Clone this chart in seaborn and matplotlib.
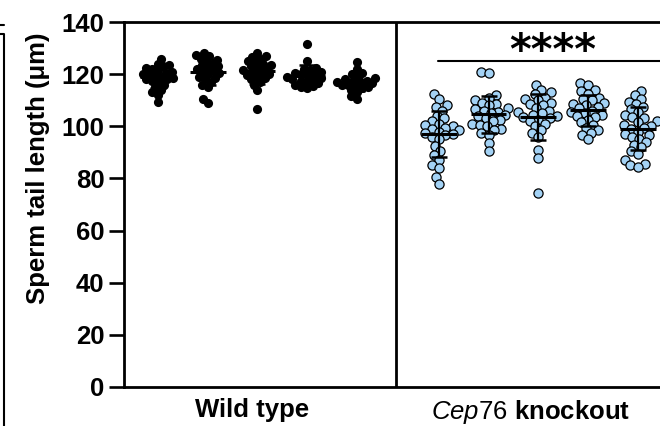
import numpy as np
import pandas as pd
import matplotlib
matplotlib.use("Agg")
import matplotlib.pyplot as plt
from matplotlib.lines import Line2D
import seaborn as sns

# ---------------- data ----------------
wt1 = [126, 124, 123.5, 123, 122.5, 122, 121.5, 121, 120.5, 120, 120, 119.5, 119, 118.5,
       118, 118, 117.5, 117, 116, 115, 114, 113, 112, 109.5]
wt2 = [128, 127.5, 127, 126, 125.5, 125, 124, 123.5, 123, 122.5, 122, 121.5, 121, 120.5,
       120, 119, 118.5, 118, 117, 116, 115, 110.5, 109]
wt3 = [128, 127, 126.5, 126, 125, 124.5, 124, 123.5, 123, 122.5, 122, 121.5, 121, 120.5,
       120, 119.5, 119, 118.5, 118, 117, 116, 114, 106.5]
wt4 = [131.5, 125, 122.5, 122, 121.5, 121, 120.5, 120, 120, 119.5, 119, 118.5, 118, 118,
       117.5, 117, 116.5, 116, 115.5, 115, 114.5]
wt5 = [124.5, 122, 120.5, 120, 119, 118.5, 118, 117.5, 117.5, 117, 117, 116.5, 116, 116,
       115.5, 115, 114.5, 114, 113, 111.5, 110.5]
ko1 = [112.5, 110.5, 108, 107.5, 106, 104, 103, 102, 101, 100.5, 100, 99.5, 99, 98.5, 98,
       97.5, 97, 96.5, 96, 95, 92.5, 90.5, 89, 87, 85, 84, 80.5, 78]
ko2 = [121, 120.5, 112, 111, 110, 109, 108.5, 108, 107, 106.5, 106, 105.5, 105, 104.5, 104,
       103, 102.5, 102, 101, 100.5, 100, 99, 98.5, 97.5, 96.5, 93.5, 90.5]
ko3 = [116, 114, 113, 112.5, 111, 110.5, 110, 109, 108.5, 108, 107, 106, 105.5, 105, 104.5,
       104, 103.5, 103, 102.5, 102, 101, 100, 98.5, 97.5, 96, 91, 88, 74.5]
ko4 = [116.5, 116, 114, 113.5, 112.5, 111, 110.5, 110, 109, 108.5, 108, 107.5, 107, 106,
       105.5, 105, 104.5, 104, 103.5, 102.5, 101.5, 100.5, 99.5, 98.5, 97.5, 96.5, 95]
ko5 = [113.5, 112, 110.5, 109.5, 108.5, 107.5, 106.5, 105.5, 104.5, 103.5, 103, 102, 101.5,
       100.5, 100, 99.5, 99, 98, 97, 96.5, 96, 95, 94, 93, 92, 90.5, 89.5, 87, 85.5, 85, 84.5]

wt_groups = [wt1, wt2, wt3, wt4, wt5]
ko_groups = [ko1, ko2, ko3, ko4, ko5]
group_labels = ["Wild type", r"$\mathit{Cep76}$ knockout"]
y_ticks = [0, 20, 40, 60, 80, 100, 120, 140]
y_label = "Sperm tail length (μm)"
sig_text = "****"

# positions of the clusters on the x axis
wt_pos = [0, 1, 2, 3, 4]
ko_pos = [5.65, 6.65, 7.65, 8.65, 9.65]

rows = []
for p, g in zip(wt_pos, wt_groups):
    rows += [("WT", p, v) for v in g]
for p, g in zip(ko_pos, ko_groups):
    rows += [("KO", p, v) for v in g]
df = pd.DataFrame(rows, columns=["genotype", "pos", "length"])

# ---------------- style ----------------
sns.set_style("ticks")
plt.rcParams["font.family"] = ["Liberation Sans", "DejaVu Sans"]
plt.rcParams["mathtext.fontset"] = "custom"
plt.rcParams["mathtext.it"] = "Liberation Sans:italic"
plt.rcParams["mathtext.rm"] = "Liberation Sans"
plt.rcParams["mathtext.bf"] = "Liberation Sans:bold"
for k in ["text.color", "axes.labelcolor", "xtick.color", "ytick.color", "axes.edgecolor"]:
    plt.rcParams[k] = "black"

W, H = 660, 426
fig = plt.figure(figsize=(W / 100, H / 100), dpi=100)
ax = fig.add_axes([124 / W, 1 - 387 / H, 1 - 124 / W, (387 - 22) / H])

wt = df[df.genotype == "WT"]
ko = df[df.genotype == "KO"]
LAYOUT_SIZE = 4.3
sns.swarmplot(data=wt, x="pos", y="length", native_scale=True, color="black",
              size=LAYOUT_SIZE, linewidth=0, ax=ax, zorder=3, warn_thresh=1)
sns.swarmplot(data=ko, x="pos", y="length", native_scale=True, color="#a3d2f5",
              edgecolor="black", linewidth=0.9, size=LAYOUT_SIZE, ax=ax, zorder=3,
              warn_thresh=1)

ax.set_xlim(-0.684, 10.10)
ax.set_ylim(0, 140)

# lay out the swarms tightly, then enlarge the dots so they overlap (as in Prism)
fig.canvas.draw()
for coll in list(ax.collections):
    if "draw" in coll.__dict__:
        del coll.draw
    coll.set_sizes([6.6 ** 2])

# mean +/- SD
stats = df.groupby("pos")["length"].agg(["mean", "std"]).reset_index()
for _, r in stats.iterrows():
    ax.plot([r["pos"] - 0.36, r["pos"] + 0.36], [r["mean"], r["mean"]],
            color="black", lw=2.2, zorder=5, solid_capstyle="butt")
    ax.errorbar(r["pos"], r["mean"], yerr=r["std"], fmt="none", ecolor="black",
                elinewidth=1.6, capsize=6, capthick=1.8, zorder=5)

ax.set_xlim(-0.684, 10.10)
ax.set_ylim(0, 140)
ax.set_yticks(y_ticks)
ax.set_yticklabels([str(t) for t in y_ticks], fontsize=18.5, fontweight="bold")
ax.set_ylabel(y_label, fontsize=18.5, fontweight="bold")
ax.yaxis.set_label_coords(-0.138, 0.60)
ax.set_xticks([1.9, 7.5])
ax.set_xticklabels(group_labels, fontsize=18.5, fontweight="bold")
ax.set_xlabel("")
ax.tick_params(axis="y", length=11, width=1.9, pad=3)
ax.tick_params(axis="x", length=0, pad=8)

for s in ["left", "bottom", "top"]:
    ax.spines[s].set_linewidth(2.0)
    ax.spines[s].set_color("black")
ax.spines["right"].set_visible(False)

# divider between the two genotypes
ax.axvline(4.79, color="black", lw=2.0, zorder=2)

# significance bar
ax.plot([5.63, 10.2], [124.9, 124.9], color="black", lw=1.5, clip_on=False)
ax.text(7.95, 128.5, sig_text, ha="center", va="center", fontsize=30,
        fontweight="bold", family="DejaVu Sans")

# fragment of neighbouring panel at far left
fig.add_artist(Line2D([0, 4 / W], [1 - 25 / H, 1 - 25 / H], color="black", lw=1.5))
fig.add_artist(Line2D([0, 4 / W, 4 / W], [1 - 34 / H, 1 - 34 / H, 0],
                      color="black", lw=1.5))

fig.savefig("out.png", dpi=100)
